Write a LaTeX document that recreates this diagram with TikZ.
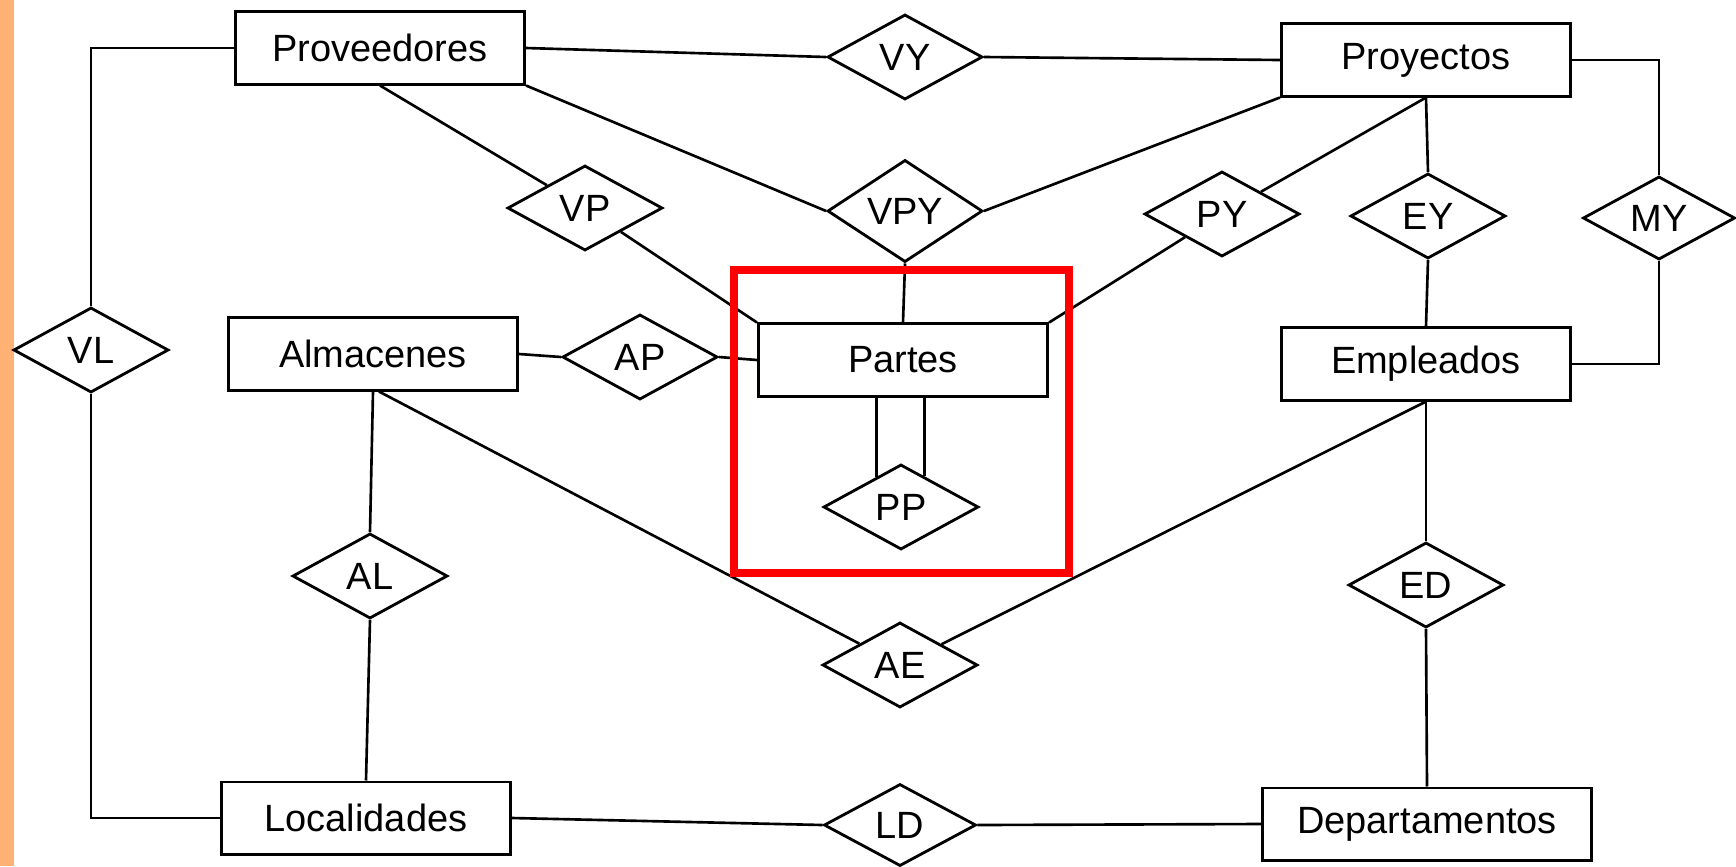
\documentclass[tikz,border=0pt]{standalone}
\usepackage{fontspec}
\setmainfont{Liberation Sans}
\usepackage{tikz}
\usetikzlibrary{shapes.geometric,calc}

\definecolor{margen}{RGB}{255,178,116}

\begin{document}
\begin{tikzpicture}[x=0.01cm,y=-0.01cm,
	every node/.style={font=\fontsize{10.8}{13}\selectfont},
	entity/.style={draw,line width=0.85pt,minimum width=2.89cm,minimum height=0.72cm,inner sep=0pt},
	relation/.style={draw,diamond,line width=0.8pt,minimum width=1.55cm,minimum height=0.85cm,inner sep=0pt},
	link/.style={line width=0.75pt}]
	\useasboundingbox (0,0) rectangle (1736,866);
	\fill[white] (0,0) rectangle (1736,866);
	\fill[margen] (0,0) rectangle (14,866);

	\node[entity] (prov) at (380,48) {Proveedores};
	\node[entity] (proy) at (1426,60) {Proyectos};
	\node[entity] (alm) at (373,354) {Almacenes};
	\node[entity] (part) at (903,360) {Partes};
	\node[entity] (emp) at (1426,364) {Empleados};
	\node[entity] (loc) at (366,818) {Localidades};
	\node[entity,minimum width=3.28cm] (dep) at (1427,824) {Departamentos};

	\node[relation] (vl) at (91,350) {VL};
	\node[relation] (vy) at (905,57) {VY};
	\node[relation] (vp) at (585,208) {VP};
	\node[relation] (vpy) at (905,211) {VPY};
	\node[relation] (py) at (1222,214) {PY};
	\node[relation] (ey) at (1428,216) {EY};
	\node[relation,minimum width=1.52cm,minimum height=0.82cm] (my) at (1659,218) {MY};
	\node[relation] (ap) at (640,357) {AP};
	\node[relation] (pp) at (901,507) {PP};
	\node[relation] (al) at (370,576) {AL};
	\node[relation] (ae) at (900,665) {AE};
	\node[relation] (ed) at (1426,585) {ED};
	\node[relation,minimum width=1.52cm,minimum height=0.82cm] (ld) at (900,825) {LD};

	\draw[link] (prov.west) -| (vl.north);
	\draw[link] (vl.south) |- (loc.west);
	\draw[link] (prov.east) -- (vy.west);
	\draw[link] (vy.east) -- (proy.west);
	\draw[link] (prov.south) -- (vp);
	\draw[link] (vp) -- (part.north west);
	\draw[link] (prov.south east) -- (vpy.west);
	\draw[link] (vpy.east) -- (proy.south west);
	\draw[link] (vpy.south) -- (part.north);
	\draw[link] (proy.south) -- (py);
	\draw[link] (py) -- (part.north east);
	\draw[link] (proy.south) -- (ey.north);
	\draw[link] (ey.south) -- (emp.north);
	\draw[link] (proy.east) -| (my.north);
	\draw[link] (my.south) |- (emp.east);
	\draw[link] (alm.east) -- (ap.west);
	\draw[link] (ap.east) -- (part.west);
	\draw[link] (alm.south) -- (al.north);
	\draw[link] (al.south) -- (loc.north);
	\draw[link] ([xshift=0.06cm]alm.south) -- (ae);
	\draw[link] (ae) -- (emp.south);
	\draw[link] (loc.east) -- (ld.west);
	\draw[link] (ld.east) -- (dep.west);
	\draw[link] (emp.south) -- (ed.north);
	\draw[link] (ed.south) -- (dep.north);

	% doble linea de la relacion recursiva
	\coordinate (ppl) at ($(pp.north)!0.31!(pp.west)$);
	\coordinate (ppr) at ($(pp.north)!0.30!(pp.east)$);
	\draw[link] (ppl) -- (ppl |- part.south);
	\draw[link] (ppr) -- (ppr |- part.south);

	\draw[red,line width=2pt] (734,270) rectangle (1069,573);
\end{tikzpicture}
\end{document}
